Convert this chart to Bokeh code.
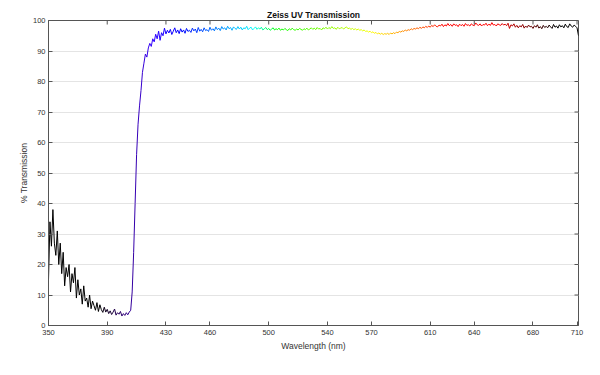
import math
from bokeh.plotting import figure
from bokeh.models import FixedTicker, Range1d, ColumnDataSource
from bokeh.embed import file_html
from bokeh.resources import INLINE

# ---- data ----
wavelength = list(range(350, 712))
transmission = [
    15, 34, 26, 38, 27, 23, 31, 20, 27, 17,            # 350
    24, 13, 19, 16, 20, 11, 17, 14, 19, 9,             # 360
    15, 10, 12, 7, 13, 8, 9, 6, 10, 5.5,               # 370
    8, 6.5, 5, 7.5, 4.6, 6.8, 5.2, 4.3, 6, 4.4,        # 380
    5.3, 3.9, 4.8, 3.6, 4.4, 5.4, 3.4, 4.2, 3.7, 4.6,  # 390
    3.1, 3.9, 3.3, 4.2, 3.5, 4.4, 5, 11, 24, 40,       # 400
    56, 66, 72, 77, 83, 86, 89, 88, 91, 92.5,          # 410
    91.5, 94, 93, 95.5, 94, 96.5, 93.5, 96, 95, 97.5,  # 420
    95.6, 96.8, 95.9, 97.1, 95.4, 96.5, 97.6, 96.0, 96.9, 95.7,  # 430
    97.3, 96.2, 96.9, 95.8, 97.4, 96.4, 96.8, 96.1, 97.5, 96.6,  # 440
    97.2, 96.0, 97.7, 96.5, 97.1, 96.3, 97.6, 96.7, 97.0, 96.4,  # 450
    97.8, 96.8, 97.3, 96.6, 97.9, 97.0, 97.5, 96.7, 98.0, 97.2,  # 460
    97.6, 96.9, 98.1, 97.3, 97.7, 96.8, 97.9, 97.4, 97.1, 98.0,  # 470
    97.2, 97.8, 96.9, 97.6, 97.3, 98.1, 97.0, 97.5, 97.8, 96.9,  # 480
    97.4, 97.9, 97.1, 97.6, 97.2, 97.8, 96.9, 97.3, 97.7, 97.0,  # 490
    97.4, 96.8, 97.2, 97.6, 96.9, 97.3, 97.0, 97.5, 96.8, 97.2,  # 500
    96.9, 97.4, 97.0, 96.7, 97.3, 96.9, 97.5, 97.0, 96.8, 97.2,  # 510
    96.9, 97.4, 97.1, 96.8, 97.3, 97.0, 97.5, 96.9, 97.2, 97.6,  # 520
    97.1, 97.5, 97.0, 97.7, 97.2, 97.4, 96.9, 97.6, 97.3, 97.8,  # 530
    97.2, 97.7, 97.3, 98.0, 97.4, 97.6, 97.1, 97.8, 97.3, 97.5,  # 540
    97.7, 97.2, 97.6, 97.9, 97.3, 97.5, 97.1, 97.4, 97.0, 97.3,  # 550
    96.9, 97.2, 96.8, 97.0, 96.6, 96.9, 96.4, 96.6, 96.2, 96.5,  # 560
    96.0, 96.3, 95.8, 96.1, 95.6, 95.9, 95.5, 95.8, 95.4, 95.7,  # 570
    95.5, 95.8, 95.4, 95.9, 95.6, 96.0, 95.7, 96.2, 96.0, 96.4,  # 580
    96.2, 96.6, 96.4, 96.9, 96.6, 97.0, 96.8, 97.3, 97.0, 97.4,  # 590
    97.2, 97.6, 97.3, 97.8, 97.4, 97.9, 97.6, 98.1, 97.7, 98.2,  # 600
    97.8, 98.4, 98.0, 98.6, 98.1, 97.9, 98.5, 98.2, 98.8, 98.0,  # 610
    98.6, 98.2, 99.0, 98.3, 98.7, 98.1, 98.9, 98.4, 98.6, 98.0,  # 620
    98.8, 98.3, 98.7, 98.1, 99.0, 98.4, 98.6, 98.2, 98.9, 98.5,  # 630
    98.3, 99.2, 98.6, 98.4, 98.9, 98.2, 98.7, 98.5, 99.1, 98.3,  # 640
    98.8, 98.4, 99.3, 98.5, 98.7, 98.2, 98.9, 98.6, 98.4, 99.0,  # 650
    98.5, 98.8, 98.3, 99.1, 97.4, 98.6, 98.2, 98.9, 97.8, 98.4,  # 660
    97.6, 98.3, 97.9, 98.7, 97.5, 98.2, 97.7, 98.5, 97.9, 98.1,  # 670
    97.4, 98.3, 97.8, 98.6, 97.5, 98.0, 97.3, 98.4, 97.7, 98.1,  # 680
    97.6, 98.5, 97.9, 97.4, 98.7, 97.8, 98.2, 97.5, 98.6, 97.9,  # 690
    98.3, 97.6, 98.8, 98.0, 97.7, 98.9, 98.2, 97.8, 98.5, 98.1,  # 700
    97.6, 95.0,                                                  # 710
]
x_ticks = [350, 390, 430, 460, 500, 540, 570, 610, 640, 680, 710]
y_ticks = [0, 10, 20, 30, 40, 50, 60, 70, 80, 90, 100]
X_MIN, X_MAX = 350, 711
Y_MIN, Y_MAX = 0, 100


def wl_color(w):
    """Approximate visible-spectrum colour for a wavelength in nm."""
    if w < 440:
        r, g, b = 0.6 * (440 - w) / 60.0, 0.0, 1.0
    elif w < 490:
        r, g, b = 0.0, (w - 440) / 50.0, 1.0
    elif w < 505:
        r, g, b = 0.0, 1.0, (505 - w) / 15.0
    elif w < 570:
        r, g, b = (w - 505) / 65.0, 1.0, 0.0
    elif w < 620:
        r, g, b = 1.0, (620 - w) / 50.0, 0.0
    else:
        r, g, b = 1.0, 0.0, 0.0
    r = min(max(r, 0.0), 1.0)
    if w < 385:
        k = 0.0
    elif w < 420:
        k = (w - 385) / 35.0
    elif w < 655:
        k = 1.0
    else:
        k = max(0.0, 1.0 - (w - 655) / 40.0)
    return "#%02x%02x%02x" % (int(255 * r * k), int(255 * g * k), int(255 * b * k))


src = ColumnDataSource(dict(
    x0=wavelength[:-1], x1=wavelength[1:],
    y0=transmission[:-1], y1=transmission[1:],
    c=[wl_color((a + b) / 2) for a, b in zip(wavelength[:-1], wavelength[1:])],
))

FONT = "Liberation Sans"
AX = "#555555"
TXT = "#333333"

p = figure(width=584, height=359, x_range=Range1d(X_MIN, X_MAX), y_range=Range1d(Y_MIN, Y_MAX),
           output_backend="svg", toolbar_location=None,
           min_border_left=48, min_border_right=6, min_border_top=20, min_border_bottom=34)

p.title.text = "Zeiss UV Transmission"
p.title.align = "center"
p.title.text_font = FONT
p.title.text_font_size = "8.5px"
p.title.text_font_style = "bold"
p.title.text_color = "#111111"
p.title.standoff = 2

p.segment(x0="x0", y0="y0", x1="x1", y1="y1", color="c", line_width=1, source=src)

# inward tick marks on the top and right edges of the box
p.ray(x=x_ticks, y=[Y_MAX] * len(x_ticks), length=4, length_units="screen",
      angle=-math.pi / 2, color=AX, line_width=1)
p.ray(x=[X_MAX] * len(y_ticks), y=y_ticks, length=4, length_units="screen",
      angle=math.pi, color=AX, line_width=1)

p.xaxis.ticker = FixedTicker(ticks=x_ticks)
p.yaxis.ticker = FixedTicker(ticks=y_ticks)
p.xaxis.axis_label = "Wavelength (nm)"
p.yaxis.axis_label = "% Transmission"

for ax in (p.xaxis[0], p.yaxis[0]):
    ax.major_tick_in = 4
    ax.major_tick_out = 0
    ax.minor_tick_in = 0
    ax.minor_tick_out = 0
    ax.axis_line_color = AX
    ax.major_tick_line_color = AX
    ax.major_label_text_font = FONT
    ax.major_label_text_font_size = "7.5px"
    ax.major_label_text_color = TXT
    ax.axis_label_text_font = FONT
    ax.axis_label_text_font_size = "8.5px"
    ax.axis_label_text_font_style = "normal"
    ax.axis_label_text_color = TXT
p.xaxis.major_label_standoff = 4
p.xaxis.axis_label_standoff = 3
p.yaxis.major_label_standoff = 3
p.yaxis.axis_label_standoff = 1

p.xgrid.grid_line_color = None
p.ygrid.grid_line_color = "#e4e4e4"
p.outline_line_color = AX
p.background_fill_color = "white"
p.border_fill_color = "white"

open("out.html", "w").write(file_html(p, INLINE))
